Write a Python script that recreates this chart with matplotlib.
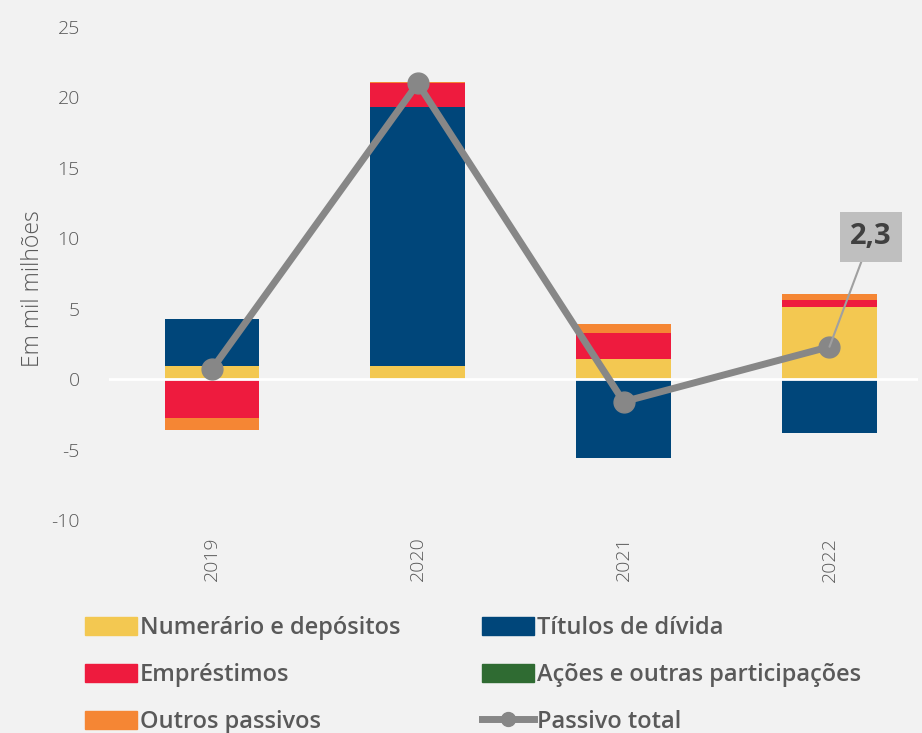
import numpy as np
import matplotlib.pyplot as plt
from matplotlib.patches import Patch
from matplotlib.lines import Line2D

plt.rcParams['font.family'] = ['Open Sans', 'DejaVu Sans']
plt.rcParams['axes.unicode_minus'] = False

anos = ['2019', '2020', '2021', '2022']
numerario = [0.9, 0.9, 1.4, 5.1]
titulos = [3.35, 18.45, -5.6, -3.8]
emprestimos = [-2.75, 1.65, 1.85, 0.5]
acoes = [0.0, 0.0, 0.0, 0.0]
outros = [-0.85, 0.1, 0.7, 0.45]
total = [0.7, 21.0, -1.6, 2.3]

series = [
    ('Numerário e depósitos', numerario, '#F3C851'),
    ('Títulos de dívida', titulos, '#00467A'),
    ('Empréstimos', emprestimos, '#EE1B3E'),
    ('Ações e outras participações', acoes, '#2F6B32'),
    ('Outros passivos', outros, '#F58634'),
]

bg = '#F2F2F2'
fig = plt.figure(figsize=(9.22, 7.33), dpi=100, facecolor=bg)
W, H = 922, 733
ax = fig.add_axes([109 / W, 1 - 520 / H, (918 - 109) / W, (520 - 27) / H])
ax.set_facecolor(bg)

x = np.arange(len(anos))
pos = np.zeros(len(anos))
neg = np.zeros(len(anos))
for nome, vals, cor in series:
    v = np.array(vals)
    base = np.where(v >= 0, pos, neg)
    ax.bar(x, v, 0.46, bottom=base, color=cor, zorder=2)
    pos = pos + np.where(v >= 0, v, 0)
    neg = neg + np.where(v < 0, v, 0)

ax.axhline(0, color='white', lw=2, zorder=3)
ax.plot(x, total, color='#878787', lw=5, marker='o', ms=15, zorder=4)

ax.annotate('2,3', xy=(3, total[3]), xytext=(3.2, 10.1),
            fontsize=21, fontweight='bold', color='#404040', ha='center', va='center',
            bbox=dict(boxstyle='square,pad=0.35', fc='#BFBFBF', ec='none'),
            arrowprops=dict(arrowstyle='-', color='#A0A0A0', lw=1.5, shrinkA=0, shrinkB=0),
            zorder=5)

ax.set_xlim(-0.5, 3.43)
ax.set_ylim(-10, 25)
ax.set_yticks(range(-10, 26, 5))
ax.set_xticks(x)
ax.set_xticklabels(anos, rotation=90)
for s in ax.spines.values():
    s.set_visible(False)
ax.tick_params(length=0, colors='#595959', labelsize=14)
ax.tick_params(axis='y', pad=21)
ax.tick_params(axis='x', pad=12)
for t in ax.get_yticklabels() + ax.get_xticklabels():
    t.set_fontweight('light')
ax.set_ylabel('Em mil milhões', fontsize=16.5, color='#595959', fontweight='light')
ax.yaxis.set_label_coords(-0.079, 0.47)

handles = [Patch(color=c) for _, _, c in series]
labels = [n for n, _, _ in series]
handles.append(Line2D([], [], color='#878787', lw=5, marker='o', ms=10))
labels.append('Passivo total')
order = [0, 2, 4, 1, 3, 5]
fig.legend([handles[i] for i in order], [labels[i] for i in order],
           ncol=2, loc='upper left', bbox_to_anchor=(85 / W, 1 - 616 / H),
           frameon=False, labelcolor='#595959',
           prop={'weight': 'semibold', 'size': 17},
           handlelength=2.2, handleheight=0.8, handletextpad=0.12,
           columnspacing=3.45, labelspacing=0.97, borderaxespad=0, borderpad=0)

fig.savefig('out.png', dpi=100, facecolor=bg)
